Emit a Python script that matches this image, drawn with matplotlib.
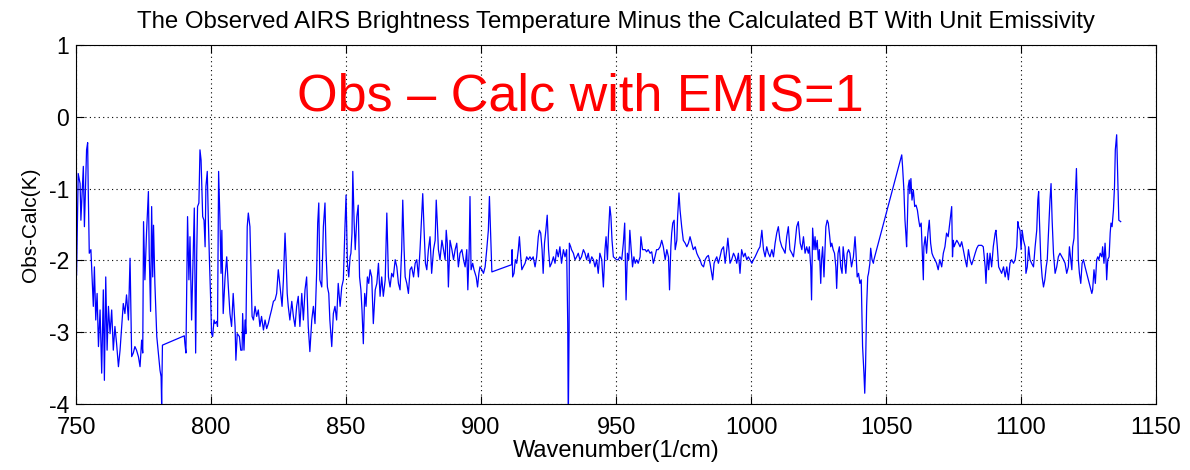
import matplotlib
matplotlib.use('Agg')
import matplotlib.pyplot as plt

plt.rcParams['font.family'] = ['Liberation Sans', 'DejaVu Sans']
plt.rcParams['axes.unicode_minus'] = False

# Obs - Calc brightness temperature (K).
# 750-796 1/cm
wn_a = [750.2, 750.8, 751.5, 751.8, 752.7, 753.1, 753.6, 753.9, 754.3, 754.5,
        754.9, 755.5, 756.0, 756.4, 756.8, 757.3, 757.8, 758.3, 758.9, 759.5,
        760.1, 760.5, 761.0, 761.5, 762.0, 762.6, 763.2, 763.8, 764.4, 765.0,
        765.7, 766.3, 766.9, 767.5, 768.1, 768.7, 769.4, 770.0, 770.6, 771.2,
        771.8, 772.4, 773.1, 773.7, 774.3, 774.7, 775.0, 775.5, 776.1, 776.8,
        777.1, 777.6, 778.0, 778.4, 778.7, 779.2, 779.9, 780.5, 781.1, 781.5,
        781.7, 782.0, 790.1, 790.3, 790.7, 791.3, 791.8, 792.2, 792.8, 793.4,
        793.8, 794.3, 794.7, 795.0, 795.5, 795.9]
bt_a = [-2.2, -0.79, -0.93, -1.44, -0.69, -1.53, -0.86, -0.46, -0.36, -0.97,
        -1.9, -1.85, -2.27, -2.64, -2.09, -2.83, -2.46, -3.2, -2.69, -3.57,
        -2.41, -3.67, -2.23, -3.25, -2.64, -3.02, -2.69, -3.25, -2.92, -3.15,
        -3.48, -3.25, -2.92, -2.6, -2.74, -2.48, -2.83, -1.97, -3.34, -3.29,
        -3.2, -3.25, -3.34, -3.48, -3.11, -3.29, -1.46, -2.27, -1.62, -1.04,
        -1.9, -2.71, -1.25, -2.23, -1.51, -2.32, -3.06, -3.29, -3.53, -3.62,
        -4.0, -3.18, -3.05, -3.15, -3.29, -1.39, -2.27, -1.67, -2.83, -1.9,
        -1.27, -3.29, -1.9, -1.25, -1.2, -0.46]

# 796-852 1/cm
wn_b = [796.3, 796.9, 797.4, 797.8, 798.1, 798.6, 799.0, 799.4, 799.9, 800.2,
        800.6, 801.1, 801.5, 802.1, 802.4, 802.8, 803.3, 803.7, 804.0, 804.5,
        805.2, 805.8, 806.4, 807.0, 807.6, 808.2, 808.9, 809.2, 809.7, 810.5,
        811.0, 811.5, 811.7, 812.2, 812.6, 812.9, 813.4, 813.8, 814.4, 814.8,
        815.2, 815.7, 816.3, 816.9, 817.5, 818.1, 818.7, 819.4, 820.0, 820.6,
        821.2, 821.8, 822.4, 823.1, 823.7, 824.3, 824.9, 825.3, 825.8, 826.3,
        826.8, 827.4, 827.8, 828.2, 828.6, 829.2, 829.9, 830.5, 831.1, 831.7,
        832.3, 832.9, 833.6, 834.2, 834.8, 835.4, 836.0, 836.6, 837.3, 837.9,
        838.5, 839.1, 839.5, 839.9, 840.3, 841.0, 841.6, 842.2, 842.6, 843.1,
        843.6, 844.0, 844.7, 845.3, 845.9, 846.5, 847.1, 847.8, 848.4, 849.0,
        849.6, 850.0, 850.5, 851.0, 851.5, 851.8, 852.2]
bt_b = [-0.6, -1.39, -1.44, -1.81, -0.97, -0.76, -1.44, -1.99, -2.6, -3.02,
        -3.06, -2.83, -2.88, -2.85, -2.92, -0.76, -1.44, -2.18, -1.58, -2.74,
        -2.23, -1.95, -2.37, -2.74, -2.92, -2.46, -2.92, -3.39, -3.02, -3.06,
        -3.25, -3.25, -2.74, -3.25, -2.83, -3.02, -1.53, -1.34, -1.53, -2.18,
        -2.78, -2.83, -2.64, -2.78, -2.69, -2.92, -2.78, -2.97, -2.83, -2.95,
        -2.88, -2.78, -2.69, -2.57, -2.55, -2.46, -2.13, -2.27, -2.46, -2.64,
        -2.27, -1.62, -1.99, -2.46, -2.64, -2.83, -2.57, -2.78, -2.92, -2.64,
        -2.5, -2.92, -2.46, -2.83, -2.41, -2.23, -2.92, -3.27, -2.83, -2.64,
        -2.88, -2.18, -1.48, -1.2, -2.27, -2.37, -1.53, -1.2, -1.9, -2.37,
        -2.46, -2.83, -3.2, -2.74, -2.64, -2.83, -2.32, -2.64, -2.37, -2.27,
        -1.53, -1.09, -2.04, -2.23, -1.95, -1.9, -1.62]

# 852-904 1/cm
wn_c = [852.5, 853.0, 853.4, 854.0, 854.5, 855.0, 855.5, 855.9, 856.4, 856.9,
        857.4, 857.9, 858.4, 858.9, 859.5, 860.1, 860.8, 861.4, 862.0, 862.6,
        863.2, 863.8, 864.5, 865.1, 865.7, 866.3, 866.9, 867.5, 868.2, 868.8,
        869.4, 870.0, 870.6, 871.0, 871.5, 871.9, 872.5, 873.1, 873.7, 874.3,
        875.0, 875.6, 876.2, 876.8, 877.4, 878.0, 878.4, 878.9, 879.4, 879.9,
        880.5, 881.1, 881.7, 882.4, 883.0, 883.4, 883.8, 884.2, 884.8, 885.5,
        886.1, 886.7, 887.1, 887.5, 887.9, 888.5, 889.2, 889.8, 890.4, 891.0,
        891.6, 892.2, 892.9, 893.5, 894.1, 894.7, 895.1, 895.6, 895.9, 896.3,
        896.9, 897.4, 898.2, 898.7, 899.2, 899.6, 900.3, 900.9, 901.5, 902.1,
        902.7, 903.1, 903.6, 904.0]
bt_c = [-0.76, -1.48, -1.85, -1.39, -1.23, -2.23, -2.41, -2.69, -3.16, -2.46,
        -2.64, -2.23, -2.32, -2.13, -2.23, -2.88, -2.41, -2.32, -2.04, -2.5,
        -2.23, -2.5, -2.27, -1.34, -2.23, -2.37, -2.18, -2.23, -1.99, -2.09,
        -2.32, -2.41, -1.85, -1.16, -1.85, -2.23, -2.32, -2.46, -2.13, -2.09,
        -2.23, -2.04, -1.99, -2.23, -1.85, -1.39, -1.07, -1.58, -2.04, -2.13,
        -1.85, -1.67, -2.18, -1.85, -1.72, -1.16, -1.48, -1.85, -1.99, -1.72,
        -1.85, -1.99, -1.58, -1.76, -2.37, -1.72, -1.85, -1.99, -1.85, -1.76,
        -2.09, -1.9, -1.85, -1.99, -2.09, -1.85, -2.41, -1.85, -1.11, -2.13,
        -2.04, -2.13, -2.23, -2.37, -2.18, -2.09, -2.13, -2.18, -2.09, -1.85,
        -1.58, -1.11, -1.67, -2.16]

# 911-966 1/cm
wn_d = [911.3, 911.5, 911.7, 912.2, 912.7, 913.2, 913.8, 914.2, 914.7, 915.1,
        915.6, 916.3, 916.9, 917.5, 918.1, 918.7, 919.3, 920.0, 920.6, 921.2,
        921.6, 922.1, 922.6, 923.0, 923.5, 924.0, 924.5, 925.0, 925.5, 926.1,
        926.8, 927.4, 928.0, 928.6, 929.2, 929.8, 930.5, 931.1, 931.7, 932.1,
        932.3, 932.6, 932.7, 933.2, 933.5, 934.2, 934.8, 935.4, 936.0, 936.6,
        937.2, 937.9, 938.5, 939.1, 939.7, 940.3, 941.0, 941.6, 942.2, 942.8,
        943.4, 944.0, 944.7, 945.3, 945.9, 946.3, 946.8, 947.2, 947.7, 948.1,
        948.5, 949.0, 949.6, 950.2, 950.8, 951.4, 952.1, 952.7, 953.2, 953.7,
        954.2, 954.7, 955.1, 955.6, 956.1, 956.6, 957.1, 957.6, 958.2, 958.9,
        959.2, 959.8, 960.3, 960.8, 961.3, 961.9, 962.6, 963.2, 963.8, 964.4,
        965.0, 965.6, 966.3]
bt_d = [-2.06, -1.85, -2.23, -2.18, -1.99, -2.04, -1.85, -1.67, -1.95, -2.13,
        -2.09, -2.04, -1.95, -1.99, -1.95, -1.99, -1.95, -2.09, -1.95, -1.67,
        -1.58, -1.62, -1.85, -2.18, -1.76, -1.58, -1.37, -1.85, -2.09, -2.04,
        -1.95, -2.04, -1.85, -1.95, -1.81, -2.04, -1.85, -1.95, -1.85, -2.88,
        -4.3, -2.97, -1.76, -1.81, -1.85, -1.9, -1.99, -1.95, -1.9, -1.99,
        -1.95, -1.85, -1.9, -1.99, -1.9, -2.04, -1.95, -1.99, -2.09, -1.99,
        -2.18, -1.9, -1.99, -2.37, -1.85, -1.67, -1.99, -1.62, -1.25, -1.39,
        -1.72, -1.95, -1.97, -1.99, -1.99, -1.95, -1.99, -1.76, -1.48, -2.55,
        -1.9, -1.99, -1.58, -1.85, -2.09, -1.95, -2.04, -1.99, -2.04, -1.95,
        -1.67, -1.85, -1.85, -1.85, -1.88, -1.85, -1.9, -1.88, -2.04, -1.95,
        -1.85, -1.85, -1.81]

# 966-1021 1/cm
wn_e = [966.9, 967.5, 968.2, 968.8, 969.4, 969.8, 970.3, 970.6, 971.0, 971.5,
        971.9, 972.5, 972.8, 973.3, 973.7, 974.3, 974.9, 975.6, 976.2, 976.8,
        977.4, 978.0, 978.6, 979.3, 979.9, 980.5, 981.1, 981.7, 982.4, 983.0,
        983.6, 984.2, 984.8, 985.4, 985.8, 986.3, 986.8, 987.3, 987.9, 988.5,
        989.1, 989.8, 990.4, 991.0, 991.4, 991.7, 992.2, 992.8, 993.5, 994.1,
        994.7, 995.3, 995.9, 996.5, 997.2, 997.8, 998.4, 999.0, 999.6, 1000.3,
        1000.9, 1001.5, 1002.1, 1002.7, 1003.3, 1004.0, 1004.6, 1005.2, 1005.8, 1006.4,
        1007.0, 1007.7, 1008.3, 1008.9, 1009.5, 1010.1, 1010.7, 1011.4, 1012.0, 1012.6,
        1013.2, 1013.8, 1014.4, 1015.1, 1015.7, 1016.3, 1016.9, 1017.5, 1018.2, 1018.8,
        1019.4, 1020.0, 1020.6, 1021.2]
bt_e = [-1.72, -1.81, -1.99, -1.85, -1.95, -2.41, -1.81, -1.62, -1.48, -1.44,
        -1.85, -1.72, -1.39, -1.06, -1.3, -1.53, -1.72, -1.76, -1.81, -1.76,
        -1.67, -1.76, -1.85, -1.81, -1.9, -1.95, -1.99, -2.06, -2.09, -1.99,
        -1.95, -1.93, -2.04, -2.18, -2.27, -2.04, -1.99, -1.95, -2.04, -1.95,
        -1.85, -1.81, -2.04, -1.85, -1.69, -1.81, -2.04, -1.99, -1.9, -1.95,
        -2.04, -1.9, -2.18, -1.85, -1.95, -1.9, -1.99, -1.95, -1.99, -2.04,
        -1.99, -1.95, -1.9, -1.85, -1.81, -1.58, -1.85, -1.95, -1.81, -1.9,
        -1.95, -1.85, -1.95, -1.76, -1.62, -1.53, -1.72, -1.81, -1.85, -1.9,
        -1.67, -1.53, -1.85, -1.9, -1.95, -1.76, -1.53, -1.46, -1.76, -1.85,
        -1.67, -1.9, -1.81, -1.9]

# 1021-1074 1/cm
wn_f = [1021.6, 1022.1, 1022.4, 1022.8, 1023.3, 1023.7, 1024.0, 1024.5, 1024.9, 1025.3,
        1025.8, 1026.1, 1026.5, 1027.0, 1027.4, 1027.7, 1028.2, 1028.6, 1029.0, 1029.5,
        1029.9, 1030.4, 1030.9, 1031.4, 1031.7, 1032.2, 1032.7, 1033.2, 1033.7, 1034.1,
        1034.6, 1035.1, 1035.6, 1036.1, 1036.6, 1037.2, 1037.9, 1038.5, 1038.8, 1039.3,
        1039.8, 1040.3, 1040.8, 1041.3, 1041.8, 1042.1, 1042.4, 1042.8, 1043.2, 1043.5,
        1044.0, 1044.3, 1044.8, 1045.3, 1045.5, 1055.8, 1056.1, 1056.6, 1057.0, 1057.4,
        1057.6, 1057.9, 1058.2, 1058.6, 1058.8, 1059.2, 1059.6, 1060.1, 1060.6, 1061.1,
        1061.6, 1062.1, 1062.5, 1063.0, 1063.5, 1063.8, 1064.0, 1064.5, 1065.0, 1065.5,
        1066.0, 1066.5, 1067.0, 1067.5, 1068.1, 1068.7, 1069.3, 1069.9, 1070.6, 1071.2,
        1071.8, 1072.4, 1073.0, 1073.7, 1074.3]
bt_f = [-1.81, -2.09, -2.55, -1.55, -1.85, -1.67, -1.85, -1.72, -1.99, -1.85,
        -2.32, -1.99, -1.81, -2.23, -1.81, -1.53, -1.44, -1.48, -1.62, -1.81,
        -1.76, -1.85, -1.9, -2.09, -2.39, -1.9, -1.81, -2.09, -2.18, -1.81,
        -1.99, -2.18, -1.9, -1.85, -1.9, -2.09, -1.95, -1.67, -1.85, -2.23,
        -2.18, -2.32, -2.27, -3.2, -3.57, -3.85, -3.48, -2.64, -2.23, -2.18,
        -2.04, -1.83, -1.99, -2.04, -1.99, -0.53, -0.69, -1.02, -1.44, -1.67,
        -1.81, -1.44, -0.97, -0.88, -1.07, -0.86, -1.16, -1.02, -1.25, -1.23,
        -1.3, -1.44, -1.53, -1.48, -1.99, -2.27, -1.81, -1.67, -1.9, -1.62,
        -1.44, -1.76, -1.9, -1.95, -1.99, -2.04, -2.13, -1.99, -2.09, -1.9,
        -1.81, -1.62, -1.67, -1.44, -1.25]

# 1074-1137 1/cm
wn_g = [1074.6, 1074.9, 1075.2, 1075.7, 1076.2, 1076.8, 1077.4, 1078.0, 1078.6, 1079.3,
        1079.9, 1080.5, 1081.1, 1081.7, 1082.3, 1083.0, 1083.6, 1084.2, 1084.8, 1085.4,
        1086.0, 1086.7, 1087.0, 1087.5, 1088.0, 1088.5, 1089.1, 1089.7, 1090.4, 1090.7,
        1091.2, 1091.7, 1092.2, 1092.8, 1093.5, 1094.1, 1094.7, 1095.3, 1095.9, 1096.5,
        1097.2, 1097.8, 1098.4, 1098.8, 1099.1, 1099.6, 1100.0, 1100.4, 1100.9, 1101.5,
        1101.8, 1102.3, 1102.8, 1103.3, 1103.9, 1104.6, 1105.2, 1105.8, 1106.2, 1106.5,
        1106.8, 1107.3, 1107.8, 1108.3, 1108.8, 1109.3, 1109.7, 1110.2, 1110.7, 1111.1,
        1111.5, 1112.0, 1112.6, 1113.2, 1113.8, 1114.4, 1115.1, 1115.7, 1116.3, 1116.9,
        1117.5, 1117.9, 1118.4, 1118.8, 1119.1, 1119.6, 1120.1, 1120.5, 1120.9, 1121.2,
        1121.6, 1122.1, 1122.6, 1123.1, 1123.7, 1124.3, 1124.9, 1125.6, 1126.2, 1126.5,
        1127.0, 1127.5, 1128.0, 1128.4, 1128.8, 1129.3, 1129.9, 1130.2, 1130.7, 1131.1,
        1131.5, 1131.7, 1132.1, 1132.6, 1133.0, 1133.3, 1133.7, 1134.2, 1134.6, 1134.9,
        1135.4, 1135.8, 1136.2, 1136.9]
bt_g = [-1.95, -1.72, -1.81, -1.76, -1.72, -1.76, -1.81, -1.74, -1.85, -1.99,
        -2.09, -1.85, -1.99, -2.06, -1.99, -1.9, -1.83, -1.79, -1.79, -1.79,
        -1.81, -2.09, -2.32, -1.9, -2.13, -1.9, -2.09, -1.81, -1.62, -1.58,
        -1.81, -2.09, -2.13, -2.18, -2.09, -2.23, -2.09, -2.27, -2.04, -1.99,
        -2.04, -1.99, -1.81, -1.46, -1.53, -1.58, -1.85, -1.58, -1.72, -1.81,
        -2.18, -2.09, -1.81, -1.99, -2.04, -2.09, -1.81, -1.58, -1.16, -1.04,
        -1.44, -1.99, -2.23, -2.37, -2.27, -2.09, -1.99, -1.58, -1.16, -0.93,
        -1.44, -1.9, -2.18, -2.09, -1.95, -1.9, -1.95, -1.99, -2.04, -2.18,
        -2.09, -1.81, -1.99, -2.13, -1.81, -1.69, -1.11, -0.72, -1.34, -1.99,
        -2.18, -2.32, -2.04, -1.99, -2.09, -2.18, -2.27, -2.37, -2.46, -2.41,
        -2.13, -2.32, -1.99, -1.95, -1.99, -1.9, -1.95, -1.81, -2.04, -1.76,
        -2.04, -2.27, -1.99, -1.95, -1.62, -1.48, -1.53, -1.3, -0.97, -0.46,
        -0.25, -0.83, -1.44, -1.46]

wavenumber = wn_a + wn_b + wn_c + wn_d + wn_e + wn_f + wn_g
obs_calc = bt_a + bt_b + bt_c + bt_d + bt_e + bt_f + bt_g

xticks = [750, 800, 850, 900, 950, 1000, 1050, 1100, 1150]
yticks = [-4, -3, -2, -1, 0, 1]

fig = plt.figure(figsize=(11.9, 4.7), dpi=100)
ax = fig.add_axes([0.0639, 0.1404, 0.9076, 0.7638])
ax.plot(wavenumber, obs_calc, color='#0000ff', linewidth=0.9)

ax.set_xlim(750, 1150)
ax.set_ylim(-4, 1)
ax.set_xticks(xticks)
ax.set_yticks(yticks)
ax.set_yticklabels([str(t) for t in yticks])
ax.grid(True, color='k', linestyle=(0, (1, 3)), linewidth=0.8)
ax.tick_params(direction='in', length=6, top=True, right=True, labelsize=17)
ax.tick_params(axis='x', pad=9)
ax.tick_params(axis='y', pad=5, labelsize=16.5)
for s in ax.spines.values():
    s.set_linewidth(0.8)

ax.set_title('The Observed AIRS Brightness Temperature Minus the Calculated BT With Unit Emissivity',
             fontsize=17.3, pad=12)
ax.set_xlabel('Wavenumber(1/cm)', fontsize=17, labelpad=1)
ax.set_ylabel('Obs-Calc(K)', fontsize=15, labelpad=6)

ax.text(0.205, 0.855, 'Obs \u2013 Calc with EMIS=1', transform=ax.transAxes,
        color='red', fontsize=37.5, ha='left', va='center')

plt.savefig('out.png', dpi=100)
